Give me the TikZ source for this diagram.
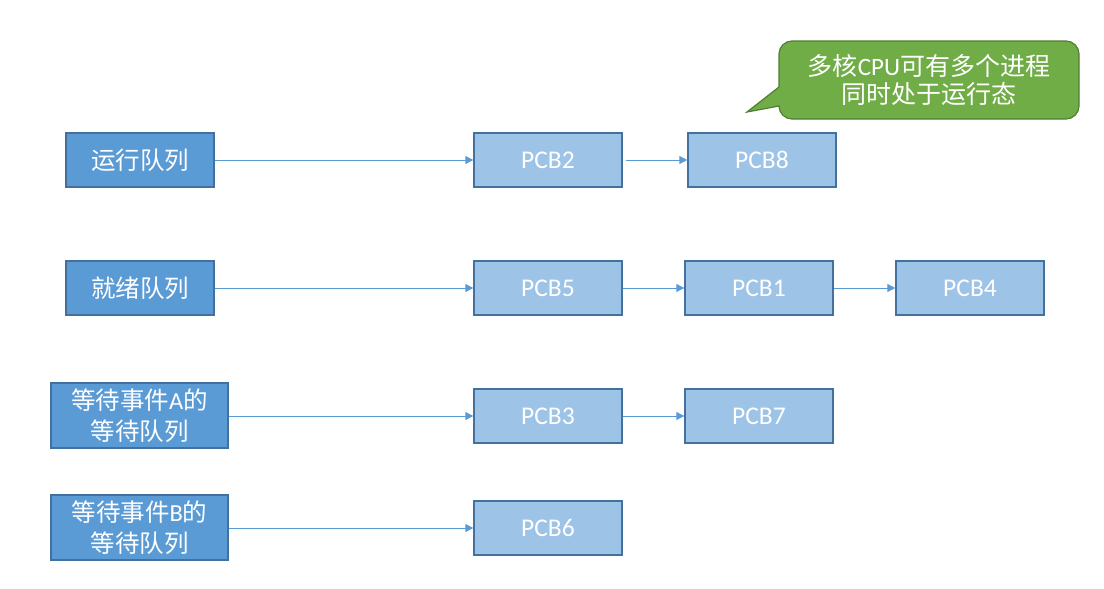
\documentclass[tikz,border=0pt]{standalone}
\usepackage{fontspec}
\setmainfont{Carlito}
\newfontfamily\cjk{Noto Sans CJK SC}
\usetikzlibrary{arrows.meta}
\definecolor{qfill}{HTML}{5B9BD5}
\definecolor{pfill}{HTML}{9DC3E6}
\definecolor{bord}{HTML}{41719C}
\definecolor{cfill}{HTML}{70AD47}
\definecolor{cbord}{HTML}{507E32}
\definecolor{arr}{HTML}{5B9BD5}
\tikzset{
  qbox/.style={draw=bord, line width=1.4pt, fill=qfill, text=white, inner sep=0pt, align=center,
    font=\fontsize{24.5}{31}\selectfont},
  pbox/.style={draw=bord, line width=1.4pt, fill=pfill, text=white, inner sep=0pt,
    minimum width=148pt, minimum height=54pt, font=\fontsize{25.5}{30}\selectfont},
  link/.style={draw=arr, line width=1pt, -{Triangle[length=8pt,width=8pt]}},
  callout/.style={draw=cbord, line width=1.2pt, fill=cfill},
}
\begin{document}
\begin{tikzpicture}[x=1pt,y=-1pt]
\useasboundingbox (0,0) rectangle (1104,589);
% queue heads
\node[qbox, minimum width=148pt, minimum height=54pt] (run) at (140,160) {\cjk 运行队列};
\node[qbox, minimum width=148pt, minimum height=54pt] (ready) at (140,288) {\cjk 就绪队列};
\node[qbox, minimum width=177pt, minimum height=65pt] (waitA) at (139.5,415.5) {{\cjk 等待事件}A{\cjk 的}\\{\cjk 等待队列}};
\node[qbox, minimum width=177pt, minimum height=65pt] (waitB) at (139.5,527.5) {{\cjk 等待事件}B{\cjk 的}\\{\cjk 等待队列}};
% PCBs
\node[pbox] (p2) at (548,160) {PCB2};
\node[pbox] (p8) at (762,160) {PCB8};
\node[pbox] (p5) at (548,288) {PCB5};
\node[pbox] (p1) at (759,288) {PCB1};
\node[pbox] (p4) at (970,288) {PCB4};
\node[pbox] (p3) at (548,416) {PCB3};
\node[pbox] (p7) at (759,416) {PCB7};
\node[pbox] (p6) at (548,528) {PCB6};
% links
\draw[link] (run) -- (p2);
\draw[link, shorten <=3pt] (p2) -- (p8);
\draw[link] (ready) -- (p5);
\draw[link] (p5) -- (p1);
\draw[link] (p1) -- (p4);
\draw[link] (waitA.east |- p3) -- (p3);
\draw[link] (p3) -- (p7);
\draw[link] (waitB.east |- p6) -- (p6);
% callout
\draw[callout] (779,87) -- (747,112) -- (779,106) [rounded corners=13pt] -- (779,119) -- (1079,119) -- (1079,41) -- (779,41) [sharp corners] -- (779,87) -- cycle;
\node[text=white, align=center, font=\fontsize{25}{28}\selectfont] (note) at (929,80) {{\cjk 多核}CPU{\cjk 可有多个进程}\\{\cjk 同时处于运行态}};
\end{tikzpicture}
\end{document}
